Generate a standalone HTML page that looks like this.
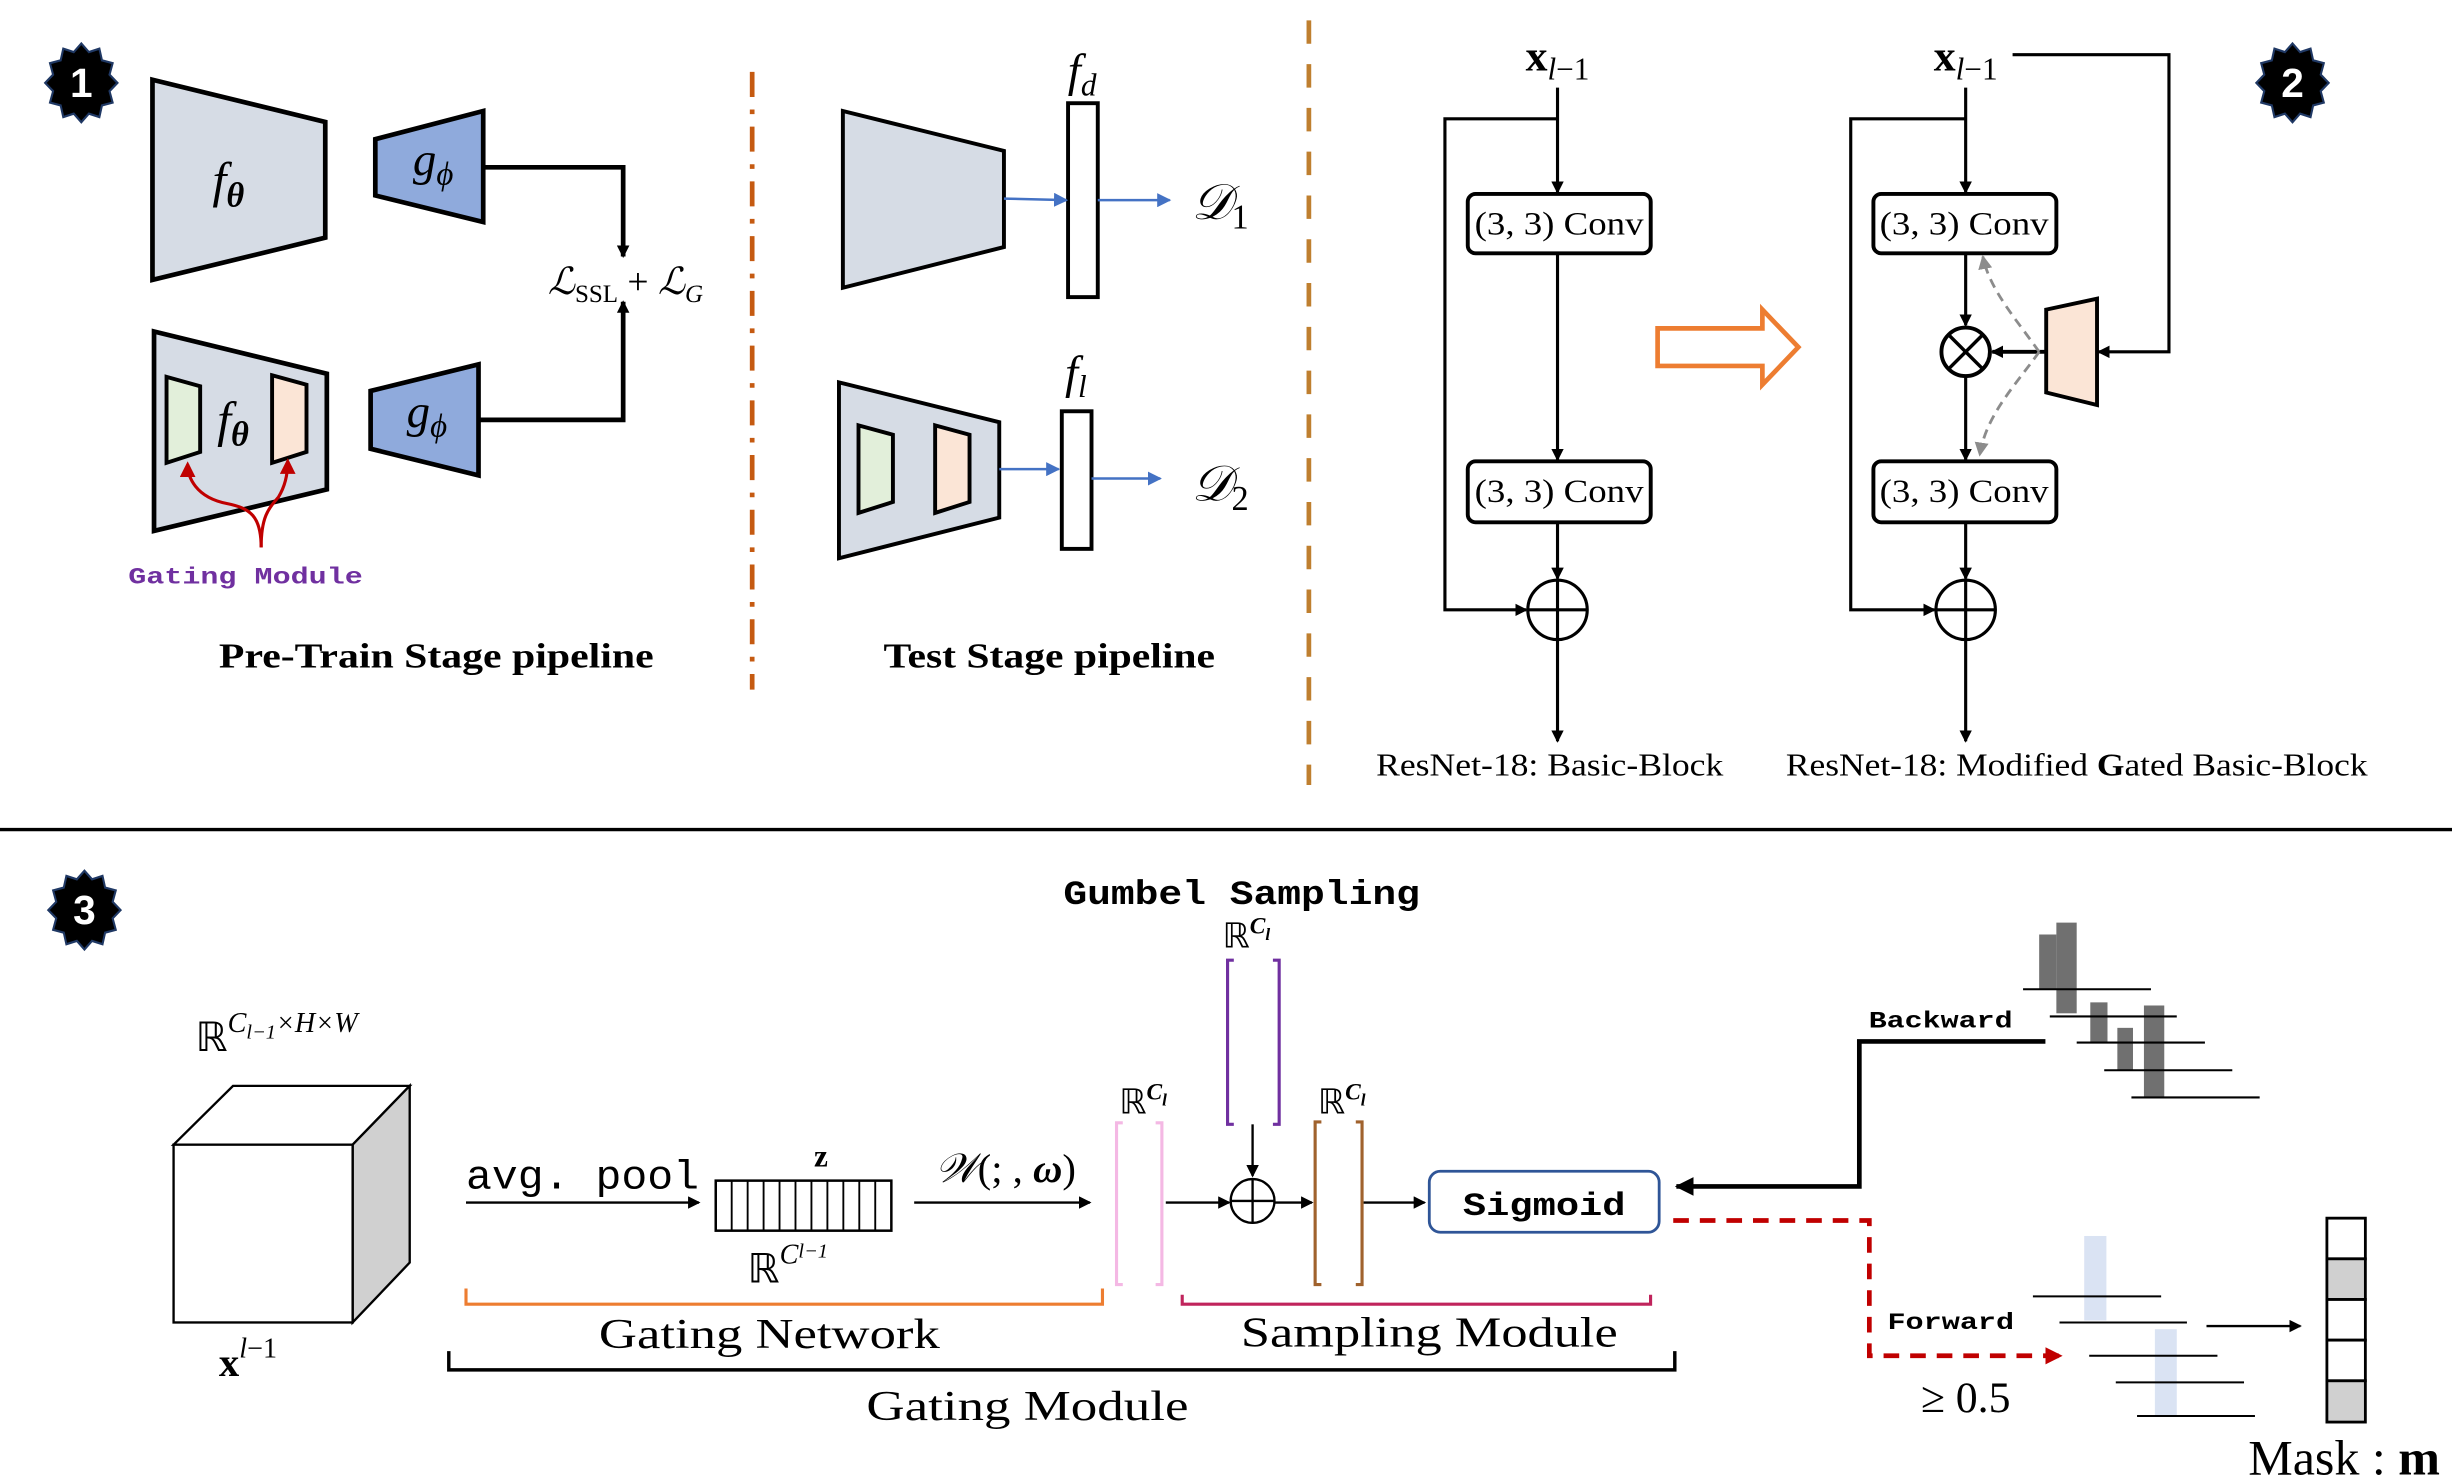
<!DOCTYPE html>
<html><head><meta charset="utf-8"><style>
html,body{margin:0;padding:0;background:#fff;}
svg{display:block;}
.serif{font-family:"Liberation Serif",serif;}
.mono{font-family:"Liberation Mono",monospace;font-weight:bold;}
</style></head><body>
<svg width="2452" height="1484" viewBox="0 0 1568 949" preserveAspectRatio="none" xmlns="http://www.w3.org/2000/svg">
<defs>
<marker id="ak" markerWidth="8" markerHeight="8" refX="7" refY="4" orient="auto" markerUnits="userSpaceOnUse"><path d="M0,0 L8,4 L0,8 z" fill="#000"/></marker>
<marker id="akb" markerWidth="12" markerHeight="12" refX="11" refY="6" orient="auto" markerUnits="userSpaceOnUse"><path d="M0,0 L12,6 L0,12 z" fill="#000"/></marker>
<marker id="ab" markerWidth="9" markerHeight="9" refX="8" refY="4.5" orient="auto" markerUnits="userSpaceOnUse"><path d="M0,0 L9,4.5 L0,9 z" fill="#4472c4"/></marker>
<marker id="ar" markerWidth="10" markerHeight="10" refX="8" refY="5" orient="auto" markerUnits="userSpaceOnUse"><path d="M0,0 L10,5 L0,10 z" fill="#c00000"/></marker>
<marker id="ag" markerWidth="9" markerHeight="9" refX="8" refY="4.5" orient="auto" markerUnits="userSpaceOnUse"><path d="M0,0 L9,4.5 L0,9 z" fill="#8c8c8c"/></marker>
<marker id="ard" markerWidth="11" markerHeight="11" refX="10" refY="5.5" orient="auto" markerUnits="userSpaceOnUse"><path d="M0,0 L11,5.5 L0,11 z" fill="#c00000"/></marker>
<polygon id="star" points="21,0 16.4,4.4 18.2,10.5 12,12 10.5,18.2 4.4,16.4 0,21 -4.4,16.4 -10.5,18.2 -12,12 -18.2,10.5 -16.4,4.4 -21,0 -16.4,-4.4 -18.2,-10.5 -12,-12 -10.5,-18.2 -4.4,-16.4 0,-21 4.4,-16.4 10.5,-18.2 12,-12 18.2,-10.5 16.4,-4.4" fill="#000" stroke="#1f3864" stroke-width="1.2"/>
</defs>

<g transform="translate(52,53) scale(1.1,1.2)"><use href="#star"/></g>
<text x="52" y="62" font-family="Liberation Sans,sans-serif" font-weight="bold" font-size="26" fill="#fff" text-anchor="middle">1</text>
<g transform="translate(1466,53) scale(1.1,1.2)"><use href="#star"/></g>
<text x="1466" y="62" font-family="Liberation Sans,sans-serif" font-weight="bold" font-size="26" fill="#fff" text-anchor="middle">2</text>
<g transform="translate(54,582) scale(1.1,1.2)"><use href="#star"/></g>
<text x="54" y="591" font-family="Liberation Sans,sans-serif" font-weight="bold" font-size="26" fill="#fff" text-anchor="middle">3</text>

<!-- PANEL 1 -->
<polygon points="97.5,51 208,78 208,152 97.5,179" fill="#d6dce5" stroke="#000" stroke-width="3"/>
<text x="146" y="126" class="serif" font-size="32" font-style="italic" text-anchor="middle">f<tspan font-size="22" font-weight="bold" dy="6">θ</tspan></text>
<polygon points="240,89 309,71 309,142 240,125" fill="#8faadc" stroke="#000" stroke-width="3"/>
<text x="277" y="112" class="serif" font-size="30" font-style="italic" text-anchor="middle">g<tspan font-size="21" dy="6">ϕ</tspan></text>
<polyline points="309,107 398.5,107 398.5,164" fill="none" stroke="#000" stroke-width="3" marker-end="url(#ak)"/>
<text x="400" y="188" class="serif" font-size="24" text-anchor="middle"><tspan font-style="italic">ℒ</tspan><tspan font-size="16" dy="5">SSL</tspan><tspan dy="-5"> + </tspan><tspan font-style="italic">ℒ</tspan><tspan font-size="16" font-style="italic" dy="5">G</tspan></text>
<polyline points="306,268.5 398.5,268.5 398.5,193" fill="none" stroke="#000" stroke-width="3" marker-end="url(#ak)"/>

<polygon points="98.5,212 209,239 209,313 98.5,339.5" fill="#d6dce5" stroke="#000" stroke-width="3"/>
<polygon points="106.5,241 128,247 128,289 106.5,296" fill="#e2efda" stroke="#000" stroke-width="2.5"/>
<polygon points="174,240 196,246 196,289 174,296" fill="#fbe5d6" stroke="#000" stroke-width="2.5"/>
<text x="149" y="279" class="serif" font-size="32" font-style="italic" text-anchor="middle">f<tspan font-size="22" font-weight="bold" dy="6">θ</tspan></text>
<polygon points="237,250 306,233 306,304 237,287" fill="#8faadc" stroke="#000" stroke-width="3"/>
<text x="273" y="273" class="serif" font-size="30" font-style="italic" text-anchor="middle">g<tspan font-size="21" dy="6">ϕ</tspan></text>
<path d="M167,350 C167,330 160,325 145,322 C125,318 120,305 120,297" fill="none" stroke="#c00000" stroke-width="2" marker-end="url(#ar)"/>
<path d="M167,350 C167,330 172,325 178,318 C183,310 184,302 184,295" fill="none" stroke="#c00000" stroke-width="2" marker-end="url(#ar)"/>
<text x="157" y="373" class="mono" font-size="15" fill="#7030a0" text-anchor="middle" textLength="150" lengthAdjust="spacingAndGlyphs">Gating Module</text>
<text x="279" y="427" class="serif" font-weight="bold" font-size="22" text-anchor="middle" textLength="278" lengthAdjust="spacingAndGlyphs">Pre-Train Stage pipeline</text>
<text x="671" y="427" class="serif" font-weight="bold" font-size="22" text-anchor="middle" textLength="212" lengthAdjust="spacingAndGlyphs">Test Stage pipeline</text>

<line x1="481" y1="46" x2="481" y2="441" stroke="#c55a11" stroke-width="3" stroke-dasharray="16,8,3,8"/>

<polygon points="539,71 642,96.5 642,158 539,184" fill="#d6dce5" stroke="#000" stroke-width="2.5"/>
<rect x="683" y="66" width="19" height="124" fill="#fff" stroke="#000" stroke-width="2.5"/>
<text x="692" y="55" class="serif" font-size="30" font-style="italic" text-anchor="middle">f<tspan font-size="20" dy="6">d</tspan></text>
<line x1="642" y1="127" x2="682" y2="128" stroke="#4472c4" stroke-width="1.6" marker-end="url(#ab)"/>
<line x1="702" y1="128" x2="748" y2="128" stroke="#4472c4" stroke-width="1.6" marker-end="url(#ab)"/>
<text x="762" y="140" class="serif" font-size="32" font-style="italic">𝒟<tspan font-size="22" font-style="normal" dy="6">1</tspan></text>

<polygon points="536.5,244.5 639,270 639,331 536.5,357" fill="#d6dce5" stroke="#000" stroke-width="2.5"/>
<polygon points="549,272 571,278 571,321 549,328" fill="#e2efda" stroke="#000" stroke-width="2.5"/>
<polygon points="598,272 620,278 620,321 598,328" fill="#fbe5d6" stroke="#000" stroke-width="2.5"/>
<rect x="679" y="263" width="19" height="88" fill="#fff" stroke="#000" stroke-width="2.5"/>
<text x="688" y="248" class="serif" font-size="30" font-style="italic" text-anchor="middle">f<tspan font-size="20" dy="6">l</tspan></text>
<line x1="639" y1="300" x2="677" y2="300" stroke="#4472c4" stroke-width="1.6" marker-end="url(#ab)"/>
<line x1="698" y1="306" x2="742" y2="306" stroke="#4472c4" stroke-width="1.6" marker-end="url(#ab)"/>
<text x="762" y="320" class="serif" font-size="32" font-style="italic">𝒟<tspan font-size="22" font-style="normal" dy="6">2</tspan></text>

<line x1="837" y1="13" x2="837" y2="502" stroke="#bf7f2f" stroke-width="3" stroke-dasharray="15,13"/>

<!-- PANEL 2 left -->
<text x="996" y="45" class="serif" font-size="28" text-anchor="middle"><tspan font-weight="bold">x</tspan><tspan font-size="20" font-style="italic" dy="6">l</tspan><tspan font-size="20">−1</tspan></text>
<line x1="996" y1="56" x2="996" y2="123" stroke="#000" stroke-width="2" marker-end="url(#ak)"/>
<polyline points="996,76 924,76 924,390 976,390" fill="none" stroke="#000" stroke-width="2" marker-end="url(#ak)"/>
<rect x="938.6" y="124" width="117" height="38" rx="5" fill="#fff" stroke="#000" stroke-width="2.5"/>
<text x="997" y="150" class="serif" font-size="21" text-anchor="middle" textLength="108" lengthAdjust="spacingAndGlyphs">(3, 3) Conv</text>
<line x1="996" y1="162" x2="996" y2="294" stroke="#000" stroke-width="2" marker-end="url(#ak)"/>
<rect x="938.6" y="295" width="117" height="39" rx="5" fill="#fff" stroke="#000" stroke-width="2.5"/>
<text x="997" y="321" class="serif" font-size="21" text-anchor="middle" textLength="108" lengthAdjust="spacingAndGlyphs">(3, 3) Conv</text>
<line x1="996" y1="334" x2="996" y2="370" stroke="#000" stroke-width="2" marker-end="url(#ak)"/>
<circle cx="996" cy="390" r="19" fill="#fff" stroke="#000" stroke-width="2"/>
<line x1="977" y1="390" x2="1015" y2="390" stroke="#000" stroke-width="2"/>
<line x1="996" y1="371" x2="996" y2="474" stroke="#000" stroke-width="2" marker-end="url(#ak)"/>
<text x="991" y="496" class="serif" font-size="20" text-anchor="middle" textLength="222" lengthAdjust="spacingAndGlyphs">ResNet-18: Basic-Block</text>

<polygon points="1060,210 1127,210 1127,198 1150,222 1127,246 1127,234 1060,234" fill="#fff" stroke="#ed7d31" stroke-width="3"/>

<!-- PANEL 2 right -->
<text x="1257" y="45" class="serif" font-size="28" text-anchor="middle"><tspan font-weight="bold">x</tspan><tspan font-size="20" font-style="italic" dy="6">l</tspan><tspan font-size="20">−1</tspan></text>
<polyline points="1287,35 1387,35 1387,225 1342,225" fill="none" stroke="#000" stroke-width="2" marker-end="url(#ak)"/>
<line x1="1257" y1="56" x2="1257" y2="123" stroke="#000" stroke-width="2" marker-end="url(#ak)"/>
<polyline points="1257,76 1183.5,76 1183.5,390 1237,390" fill="none" stroke="#000" stroke-width="2" marker-end="url(#ak)"/>
<rect x="1198" y="124" width="117" height="38" rx="5" fill="#fff" stroke="#000" stroke-width="2.5"/>
<text x="1256" y="150" class="serif" font-size="21" text-anchor="middle" textLength="108" lengthAdjust="spacingAndGlyphs">(3, 3) Conv</text>
<line x1="1257" y1="162" x2="1257" y2="208" stroke="#000" stroke-width="2" marker-end="url(#ak)"/>
<circle cx="1257" cy="225" r="15.5" fill="#fff" stroke="#000" stroke-width="2.5"/>
<line x1="1246" y1="214" x2="1268" y2="236" stroke="#000" stroke-width="2.2"/>
<line x1="1268" y1="214" x2="1246" y2="236" stroke="#000" stroke-width="2.2"/>
<polygon points="1308.5,198 1341,191 1341,259 1308.5,251" fill="#fbe5d6" stroke="#000" stroke-width="2.5"/>
<line x1="1308" y1="225" x2="1274" y2="225" stroke="#000" stroke-width="2.5" marker-end="url(#ak)"/>
<path d="M1304,225 C1290,205 1272,185 1268,164" fill="none" stroke="#8c8c8c" stroke-width="1.8" stroke-dasharray="6,4" marker-end="url(#ag)"/>
<path d="M1304,225 C1290,245 1270,265 1266,291" fill="none" stroke="#8c8c8c" stroke-width="1.8" stroke-dasharray="6,4" marker-end="url(#ag)"/>
<line x1="1257" y1="241" x2="1257" y2="294" stroke="#000" stroke-width="2" marker-end="url(#ak)"/>
<rect x="1198" y="295" width="117" height="39" rx="5" fill="#fff" stroke="#000" stroke-width="2.5"/>
<text x="1256" y="321" class="serif" font-size="21" text-anchor="middle" textLength="108" lengthAdjust="spacingAndGlyphs">(3, 3) Conv</text>
<line x1="1257" y1="334" x2="1257" y2="370" stroke="#000" stroke-width="2" marker-end="url(#ak)"/>
<circle cx="1257" cy="390" r="19" fill="#fff" stroke="#000" stroke-width="2"/>
<line x1="1238" y1="390" x2="1276" y2="390" stroke="#000" stroke-width="2"/>
<line x1="1257" y1="371" x2="1257" y2="474" stroke="#000" stroke-width="2" marker-end="url(#ak)"/>
<text x="1328" y="496" class="serif" font-size="20" text-anchor="middle" textLength="372" lengthAdjust="spacingAndGlyphs">ResNet-18: Modified <tspan font-weight="bold">G</tspan>ated Basic-Block</text>

<line x1="0" y1="530.5" x2="1568" y2="530.5" stroke="#000" stroke-width="2.2"/>

<!-- PANEL 3 -->
<text x="794" y="578" class="mono" font-size="22" text-anchor="middle" textLength="228" lengthAdjust="spacingAndGlyphs">Gumbel Sampling</text>
<text x="797" y="606" class="serif" font-size="22" text-anchor="middle">ℝ<tspan font-size="15" font-style="italic" font-weight="bold" dy="-9">C<tspan font-size="11" dy="4">l</tspan></tspan></text>
<path d="M789,614 h-4 v105 h4 M814,614 h4 v105 h-4" fill="none" stroke="#7030a0" stroke-width="2"/>
<line x1="801" y1="719" x2="801" y2="752" stroke="#000" stroke-width="1.5" marker-end="url(#ak)"/>
<circle cx="801" cy="768" r="14" fill="#fff" stroke="#000" stroke-width="1.5"/>
<line x1="787" y1="768" x2="815" y2="768" stroke="#000" stroke-width="1.5"/>
<line x1="801" y1="754" x2="801" y2="782" stroke="#000" stroke-width="1.5"/>

<text x="731" y="712" class="serif" font-size="22" text-anchor="middle">ℝ<tspan font-size="15" font-style="italic" font-weight="bold" dy="-9">C<tspan font-size="11" dy="4">l</tspan></tspan></text>
<path d="M718,718 h-4 v103.5 h4 M739,718 h4 v103.5 h-4" fill="none" stroke="#f4b8e4" stroke-width="2"/>
<line x1="745.5" y1="769" x2="786" y2="769" stroke="#000" stroke-width="1.5" marker-end="url(#ak)"/>
<line x1="815" y1="769" x2="839" y2="769" stroke="#000" stroke-width="1.5" marker-end="url(#ak)"/>
<text x="858" y="712" class="serif" font-size="22" text-anchor="middle">ℝ<tspan font-size="15" font-style="italic" font-weight="bold" dy="-9">C<tspan font-size="11" dy="4">l</tspan></tspan></text>
<path d="M845,717.5 h-4 v104 h4 M867,717.5 h4 v104 h-4" fill="none" stroke="#a0622d" stroke-width="2"/>
<line x1="872" y1="769" x2="911" y2="769" stroke="#000" stroke-width="1.5" marker-end="url(#ak)"/>
<rect x="914" y="749" width="147" height="39" rx="7" fill="#fff" stroke="#2f5597" stroke-width="1.8"/>
<text x="987.5" y="777" class="mono" font-size="21" text-anchor="middle" textLength="104" lengthAdjust="spacingAndGlyphs">Sigmoid</text>

<!-- cube -->
<polygon points="111,732 149,694.4 262,694.4 225.5,732" fill="#fff" stroke="#000" stroke-width="1.5"/>
<polygon points="225.5,732 262,694.4 262,807.4 225.5,845.7" fill="#d0d0d0" stroke="#000" stroke-width="1.5"/>
<rect x="111" y="732" width="114.5" height="113.7" fill="#fff" stroke="#000" stroke-width="1.5"/>
<text x="125" y="672" class="serif" font-size="26">ℝ<tspan font-size="18" font-style="italic" dy="-12">C<tspan font-size="13" dy="4">l−1</tspan><tspan dy="-4">×H×W</tspan></tspan></text>
<text x="140" y="880" class="serif" font-size="26"><tspan font-weight="bold">x</tspan><tspan font-size="18" font-style="italic" dy="-12">l</tspan><tspan font-size="18" dy="0">−1</tspan></text>

<text x="298" y="760" font-family="Liberation Mono,monospace" font-size="26" textLength="149" lengthAdjust="spacingAndGlyphs">avg. pool</text>
<line x1="298" y1="769" x2="447" y2="769" stroke="#000" stroke-width="1.5" marker-end="url(#ak)"/>
<rect x="457.7" y="755" width="112.3" height="32" fill="#fff" stroke="#000" stroke-width="1.6"/>
<g stroke="#000" stroke-width="1.2">
<line x1="467.9" y1="755" x2="467.9" y2="787"/><line x1="478.1" y1="755" x2="478.1" y2="787"/><line x1="488.3" y1="755" x2="488.3" y2="787"/><line x1="498.5" y1="755" x2="498.5" y2="787"/><line x1="508.7" y1="755" x2="508.7" y2="787"/><line x1="518.9" y1="755" x2="518.9" y2="787"/><line x1="529.1" y1="755" x2="529.1" y2="787"/><line x1="539.3" y1="755" x2="539.3" y2="787"/><line x1="549.5" y1="755" x2="549.5" y2="787"/><line x1="559.7" y1="755" x2="559.7" y2="787"/>
</g>
<text x="525" y="746" class="serif" font-size="20" font-weight="bold" text-anchor="middle">z</text>
<text x="478" y="820" class="serif" font-size="26">ℝ<tspan font-size="18" font-style="italic" dy="-12">C<tspan font-size="13" dy="-4">l−1</tspan></tspan></text>
<text x="643" y="756" class="serif" font-size="26" text-anchor="middle"><tspan font-style="italic">𝒲</tspan>(; , <tspan font-weight="bold" font-style="italic">ω</tspan>)</text>
<line x1="584.6" y1="769" x2="697" y2="769" stroke="#000" stroke-width="1.5" marker-end="url(#ak)"/>

<path d="M298,824 v10 h407 v-10" fill="none" stroke="#ed7d31" stroke-width="2"/>
<text x="492" y="862" class="serif" font-size="27" text-anchor="middle" textLength="218" lengthAdjust="spacingAndGlyphs">Gating Network</text>
<path d="M756,828 v6 h299.5 v-6" fill="none" stroke="#c0245c" stroke-width="2"/>
<text x="914" y="861" class="serif" font-size="27" text-anchor="middle" textLength="241" lengthAdjust="spacingAndGlyphs">Sampling Module</text>
<path d="M287,864 v12 h784 v-12" fill="none" stroke="#000" stroke-width="2.2"/>
<text x="657" y="908" class="serif" font-size="27" text-anchor="middle" textLength="206" lengthAdjust="spacingAndGlyphs">Gating Module</text>

<!-- backward / forward -->
<polyline points="1308,666 1189,666 1189,758.7 1072,758.7" fill="none" stroke="#000" stroke-width="3" marker-end="url(#akb)"/>
<text x="1195" y="657" class="mono" font-size="15" textLength="92" lengthAdjust="spacingAndGlyphs">Backward</text>
<g fill="#707070">
<rect x="1304" y="597.6" width="11" height="35.4"/>
<rect x="1315" y="590" width="13" height="58"/>
<rect x="1336.7" y="641" width="11" height="25.7"/>
<rect x="1354" y="657.3" width="10" height="27.1"/>
<rect x="1371" y="643" width="13" height="58.8"/>
</g>
<g stroke="#000" stroke-width="1.3">
<line x1="1293.7" y1="632.6" x2="1375.5" y2="632.6"/>
<line x1="1310.8" y1="650" x2="1392" y2="650"/>
<line x1="1328" y1="666.7" x2="1410" y2="666.7"/>
<line x1="1345.6" y1="684.4" x2="1427.5" y2="684.4"/>
<line x1="1363" y1="701.8" x2="1445" y2="701.8"/>
</g>
<polyline points="1070,780.5 1195.4,780.5 1195.4,867 1318,867" fill="none" stroke="#c00000" stroke-width="3" stroke-dasharray="10,7" marker-end="url(#ard)"/>
<text x="1207" y="850" class="mono" font-size="15" textLength="81" lengthAdjust="spacingAndGlyphs">Forward</text>
<text x="1257" y="903" class="serif" font-size="28" text-anchor="middle">≥ 0.5</text>
<g fill="#dae3f3">
<rect x="1332.8" y="790.4" width="14.2" height="54"/>
<rect x="1378" y="850" width="14" height="55.5"/>
</g>
<g stroke="#000" stroke-width="1.3">
<line x1="1300" y1="829" x2="1382" y2="829"/>
<line x1="1317" y1="845.7" x2="1398.5" y2="845.7"/>
<line x1="1336" y1="867" x2="1418" y2="867"/>
<line x1="1353" y1="884" x2="1435" y2="884"/>
<line x1="1366.6" y1="905.5" x2="1442" y2="905.5"/>
</g>
<line x1="1411" y1="848" x2="1471" y2="848" stroke="#000" stroke-width="1.5" marker-end="url(#ak)"/>
<g stroke="#000" stroke-width="1.8">
<rect x="1488" y="779" width="24.6" height="26" fill="#fff"/>
<rect x="1488" y="805" width="24.6" height="26" fill="#d0d0d0"/>
<rect x="1488" y="831" width="24.6" height="26" fill="#fff"/>
<rect x="1488" y="857" width="24.6" height="26" fill="#fff"/>
<rect x="1488" y="883" width="24.6" height="26.4" fill="#d0d0d0"/>
</g>
<text x="1499" y="943" class="serif" font-size="32" text-anchor="middle">Mask : <tspan font-weight="bold">m</tspan></text>
</svg>
</body></html>
